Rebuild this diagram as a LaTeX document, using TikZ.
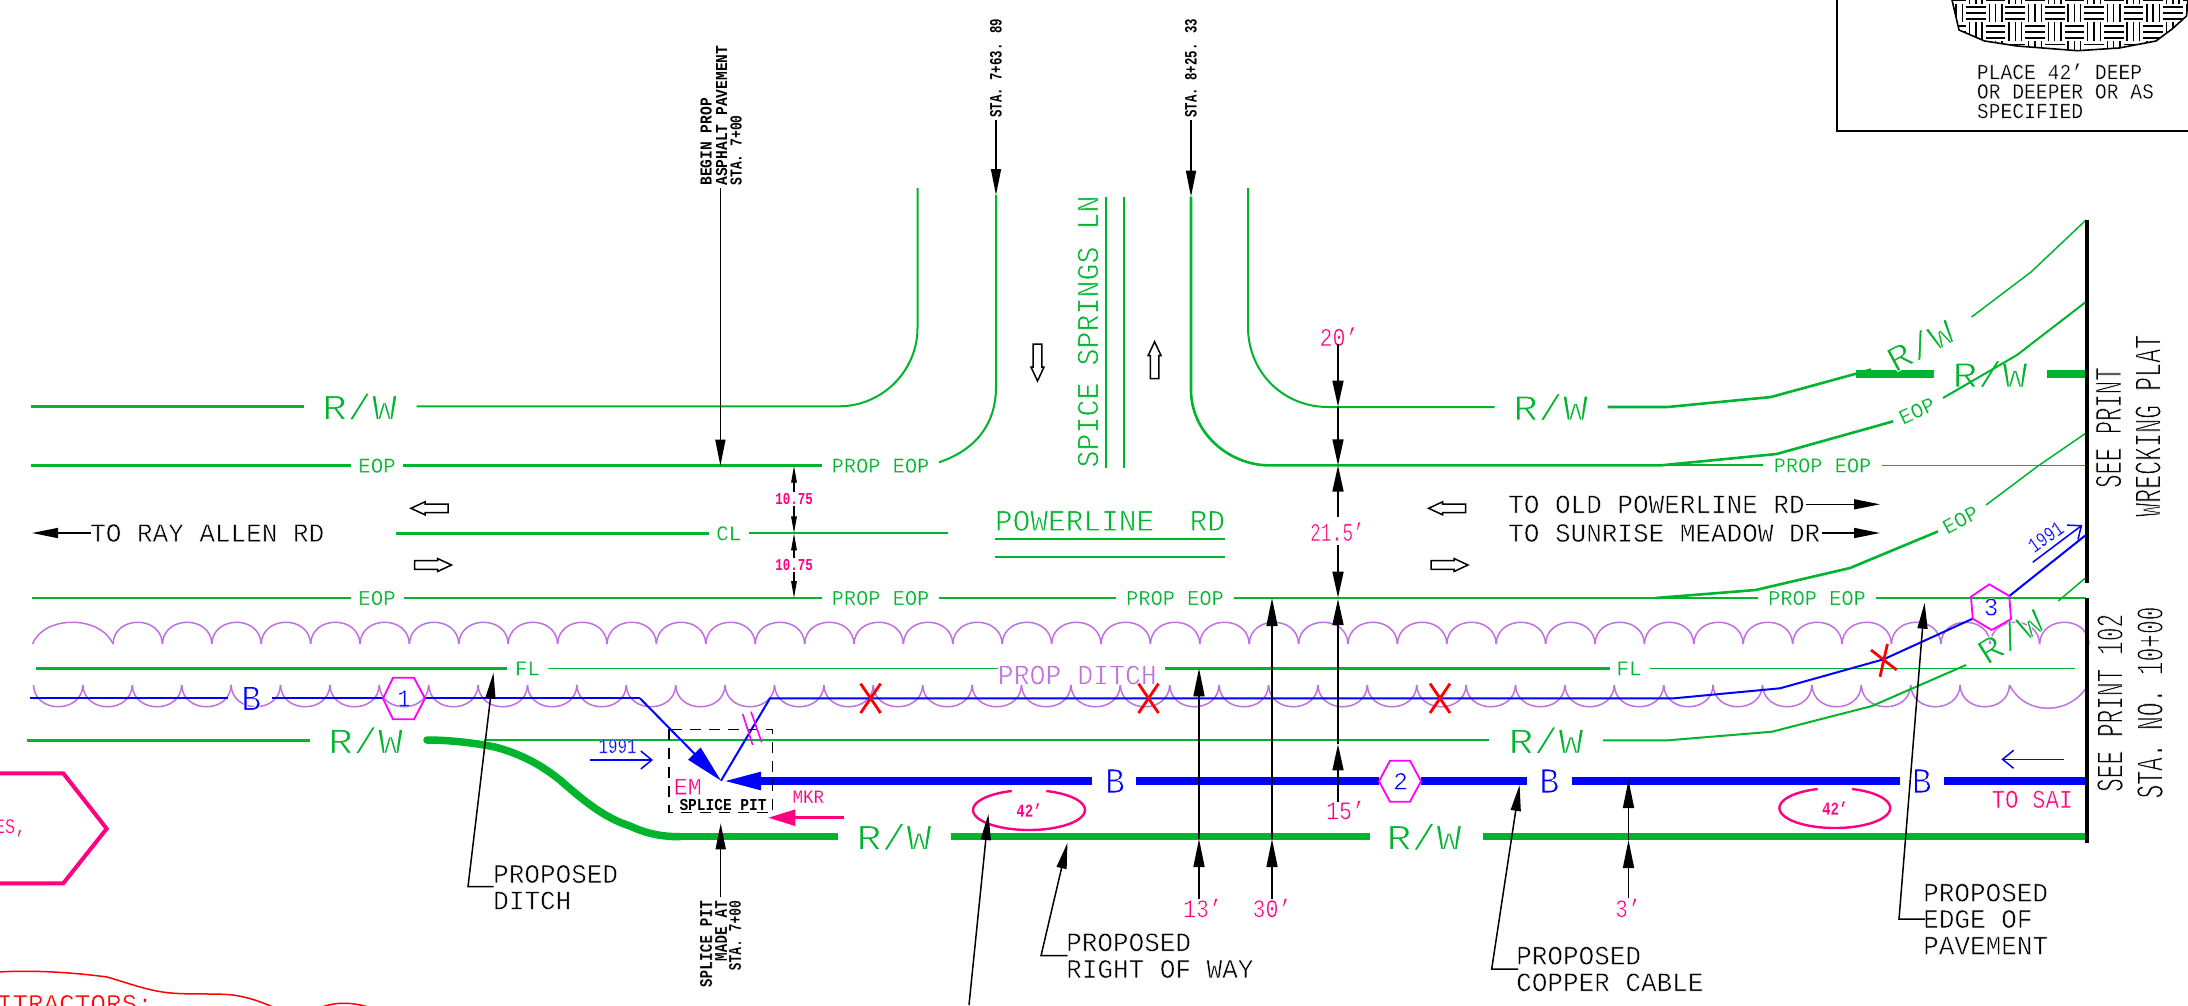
\documentclass[tikz,border=0pt]{standalone}
\usepackage{fontspec}
\setmainfont{Liberation Mono}
\usetikzlibrary{arrows.meta}
\definecolor{grn}{HTML}{00B52E}
\definecolor{pnk}{HTML}{FF0080}
\definecolor{mag}{HTML}{FF00FF}
\definecolor{lav}{HTML}{C070E0}
\tikzset{
  cad/.code 2 args={\pgfmathsetmacro\cadS{(#1)/0.66}\pgfmathsetmacro\cadX{(#2)/(0.6*\cadS)}\pgfmathsetmacro\cadW{0.55*(0.085*\cadS-1.4)}\ifdim\cadW pt>0.05pt \edef\cadsp{\noexpand\special{pdf:code 2 Tr 1 1 1 RG \cadW\space w}}\else\let\cadsp\relax\fi\edef\cadtmp{\noexpand\tikzset{font=\noexpand\fontsize{\cadS}{\cadS}\noexpand\selectfont,xscale=\cadX,execute at begin node=\noexpand\cadsp}}\cadtmp},
  tc/.style={execute at begin node={\color{#1}\cadsp}},
  gthin/.style={draw=grn,line width=1.5pt},
  gmid/.style={draw=grn,line width=2.6pt},
  gbar/.style={draw=grn,line width=7.5pt},
  bthin/.style={draw=blue,line width=2pt},
  bbar/.style={draw=blue,line width=7.7pt},
  scal/.style={draw=lav,line width=1.5pt},
  crossx/.style={draw=red,line width=2.8pt},
  pell/.style={draw=pnk,line width=2.4pt},
  hexa/.style={draw=mag,line width=1.8pt,fill=white},
  blk/.style={draw=black,line width=1.5pt,-{Triangle[length=26pt,width=10pt]}},
  blks/.style={draw=black,line width=1.4pt,-{Triangle[length=17pt,width=5.5pt]}},
  bbarb/.style={draw=blue,line width=1.5pt,-{Straight Barb[length=11pt,width=18pt]}},
  openar/.style={draw=black,line width=1.5pt}
}
\newcommand{\openarrow}[3]{\draw[openar,shift={(#1,#2)},rotate=#3] (0,0)--(14,-6.5)--(14,-4.3)--(37,-4.3)--(37,4.3)--(14,4.3)--(14,6.5)--cycle;}
\begin{document}
\begin{tikzpicture}[x=1pt,y=-1pt,every node/.style={inner sep=0pt}]
\useasboundingbox (0,0) rectangle (2188,1005);
\fill[white] (0,0) rectangle (2188,1005);

% scallops
\draw[scal] (32.5,644) .. controls (44,615) and (100,615) .. (113,644);
\foreach \k in {0,...,39} \draw[scal] ({113+49.4*\k},644) .. controls ({113+49.4*\k+1},615) and ({113+49.4*(\k+1)-1},615) .. ({113+49.4*(\k+1)},644);
\foreach \k in {0,...,39} \draw[scal] ({33.5+49.4*\k},685) .. controls ({33.5+49.4*\k+1},714) and ({33.5+49.4*(\k+1)-1},714) .. ({33.5+49.4*(\k+1)},685);
\draw[scal] (2009.5,685) .. controls (2025,716) and (2070,716) .. (2088,685);

% upper left R/W
\draw[gmid] (31,406.3) -- (304,406.3);
\node[cad={24}{25},tc=grn] (rw1) at (359.5,406.5) {R/W};
\draw[gthin,line width=2pt] (416.5,406.3) -- (839,406.3) .. controls (882,406.3) and (917.5,371) .. (917.5,328) -- (917.5,188);
% upper left EOP
\draw[gmid] (31,465.7) -- (351,465.7);
\node[cad={14}{12.5},tc=grn] (eop1) at (377,465.7) {EOP};
\draw[gmid] (403,465.7) -- (822,465.7);
\node[cad={14}{12.2},tc=grn] (peop1) at (880.5,465.7) {PROP EOP};
\draw[gthin,line width=2pt] (939,462.3) .. controls (975,450) and (996,425) .. (996,386.7) -- (996,195);
% spice springs
\draw[gthin,line width=2pt] (1106,196.7) -- (1106,467.7);
\draw[gthin,line width=2pt] (1124,196.7) -- (1124,467.7);
\node[rotate=90,cad={20.4}{17},tc=grn] (spice) at (1088,331.5) {SPICE SPRINGS LN};
% right return, R/W
\draw[gthin,line width=2pt] (1248,188) -- (1248,327) .. controls (1248,372) and (1283,407) .. (1328,407) -- (1494.6,407);
\node[cad={24}{25},tc=grn] (rw2) at (1550.5,407) {R/W};
\draw[gmid] (1607.6,407) -- (1667.5,407) -- (1771,397) -- (1871,369.6);
\draw[gbar] (1855.5,374) -- (1933.5,374);
\node[cad={24}{25},tc=grn] (rw3) at (1990,374) {R/W};
\draw[gbar] (2047,374) -- (2086,374);
\node[rotate=28,cad={24}{23.5},tc=grn] (rw4) at (1920,345) {R/W};
\draw[gthin] (1971.6,317) -- (2031,272) -- (2086,220);
% right EOP top
\draw[gmid] (1191,196.7) -- (1191,390) .. controls (1191,432) and (1228,465.4) .. (1270,465.4) -- (1660,465.4) -- (1776.6,454) -- (1893,421.4);
\node[rotate=25,cad={14}{12.5},tc=grn] (eop2) at (1917,410.7) {EOP};
\draw[gthin,line width=2pt] (1943,398) -- (2017,355) -- (2086,301.8);
\draw[gthin,line width=2pt] (1660,465.4) -- (1763,465.4);
\node[cad={14}{12.2},tc=grn] (peop2) at (1822.5,465.4) {PROP EOP};
\draw[gthin] (1882,465.4) -- (2086,465.4);
% centre line
\draw[gmid] (396,533.3) -- (709,533.3);
\node[cad={14}{12.5},tc=grn] (cl) at (728.7,533.3) {CL};
\draw[gthin,line width=2pt] (748.7,533.3) -- (948,533.3);
\node[cad={20}{17.7},tc=grn] (pl) at (1110,520.8) {POWERLINE\ \ RD};
\draw[gmid] (995,539) -- (1224.6,539);
\draw[gthin] (995,557) -- (1224.6,557);
% lower EOP
\draw[gmid] (32,598) -- (351,598);
\node[cad={14}{12.5},tc=grn] (eop3) at (377,598) {EOP};
\draw[gmid] (404,598) -- (822,598);
\node[cad={14}{12.2},tc=grn] (peop3) at (880.5,598) {PROP EOP};
\draw[gmid] (939,598) -- (1116.4,598);
\node[cad={14}{12.2},tc=grn] (peop4) at (1175,598) {PROP EOP};
\draw[gmid] (1234,598) -- (1758,598);
\node[cad={14}{12.2},tc=grn] (peop5) at (1817,598) {PROP EOP};
\draw[gmid] (1875.7,598) -- (2086,598);
\draw[gmid] (1655.5,598) -- (1755.6,590) -- (1850,568) -- (1938,531.4);
\node[rotate=28,cad={14}{12.5},tc=grn] (eop4) at (1960.5,519.6) {EOP};
\draw[gthin] (1986,505) -- (2038,466) -- (2086,433);
\draw[gthin] (2058.3,601) -- (2085,578.3);
% FL
\draw[gmid,line width=3.5pt] (36,668.3) -- (507,668.3);
\node[cad={14}{12.5},tc=grn] (fl1) at (527.5,668.3) {FL};
\draw[gthin] (548,668.3) -- (998,668.3);
\node[cad={19}{15.9},tc=lav] (ditch) at (1077.3,675) {PROP DITCH};
\draw[gmid,line width=3.5pt] (1165,668.3) -- (1610,668.3);
\node[cad={14}{12.5},tc=grn] (fl2) at (1629,668.3) {FL};
\draw[gthin] (1650,668.3) -- (2075,668.3);
% lower R/W
\draw[gmid] (26.5,740.3) -- (310,740.3);
\node[cad={24}{25},tc=grn] (rw5) at (365.5,740.3) {R/W};
\draw[gthin,line width=2pt] (484,740.3) -- (1489,740.3);
\node[cad={24}{25},tc=grn] (rw6) at (1546,740.3) {R/W};
\draw[gthin,line width=2pt] (1603,740.3) -- (1668,740.3) -- (1772,731.7) -- (1872,706) -- (1966,665);
\node[rotate=32,cad={24}{23.5},tc=grn] (rw7) at (2010,636) {R/W};
% thick R/W bottom
\draw[gbar,line cap=round] (427,740) .. controls (450,740) and (475,743) .. (495,747) .. controls (525,755) and (545,768) .. (560,780) .. controls (585,802) and (605,818) .. (630,826) .. controls (645,833) and (660,836.7) .. (680,836.7);
\draw[gbar] (675,836.7) -- (838,836.7);
\node[cad={24}{25},tc=grn] (rw8) at (894,836.7) {R/W};
\draw[gbar] (950.7,836.7) -- (1370,836.7);
\node[cad={24}{25},tc=grn] (rw9) at (1424,836.7) {R/W};
\draw[gbar] (1483,836.7) -- (2086,836.7);

% blue thin line
\draw[bthin] (30,698.3) -- (228,698.3);
\node[cad={24}{20},tc=blue] (b1) at (251.4,698.3) {B};
\draw[bthin] (272.3,698.3) -- (383,698.3);
\draw[bthin] (425,698.3) -- (640,698.3);
\draw[bthin,-{Triangle[length=38pt,width=17pt]}] (640,698.3) -- (721,780.7);
\draw[bthin] (721,780.7) -- (770,698.3) -- (1674,698.3) -- (1780,688.3) -- (1883.6,659.3) -- (1973.5,618.3);
\draw[bthin] (2009.3,596) -- (2085,535.7);
% blue thick
\draw[bbar,-{Triangle[length=40pt,width=16pt]}] (1092,781) -- (721,781);
\node[cad={24}{20},tc=blue] (b2) at (1115,781) {B};
\draw[bbar] (1136.4,781) -- (1379,781);
\draw[bbar] (1421,781) -- (1526.6,781);
\node[cad={24}{20},tc=blue] (b3) at (1549.4,781) {B};
\draw[bbar] (1571.7,781) -- (1900,781);
\node[cad={24}{20},tc=blue] (b4) at (1921.8,781) {B};
\draw[bbar] (1944,781) -- (2086,781);
% hexagons
\draw[hexa,fill=none] (383,698.5)--(393,677.7)--(414,677.7)--(425,698.5)--(414,719.3)--(393,719.3)--cycle;
\node[cad={16.5}{13},tc=blue] (h1) at (404,698.5) {1};
\draw[hexa] (1379,781.2)--(1390,760.7)--(1410,760.7)--(1421,781.2)--(1410,801.7)--(1390,801.7)--cycle;
\node[cad={16.5}{15},tc=blue] (h2) at (1400.5,781.2) {2};
\draw[hexa,fill=none] (1989.3,584.3)--(2009.3,596)--(2011,619)--(1991.7,630)--(1972.7,618.7)--(1971,596.7)--cycle;
\node[cad={17}{15},tc=blue] (h3) at (1991,607) {3};
% 1991 labels
\node[cad={14}{9.5},tc=blue] (y1) at (617.5,746) {1991};
\draw[bbarb] (590,760) -- (653,760);
\node[rotate=35,cad={14}{9.5},tc=blue] (y2) at (2045.7,536.7) {1991};
\draw[bbarb] (2032.7,562.3) -- (2082.3,525);
\draw[bbarb] (2063.8,759.3) -- (2001.4,759.3);
\node[cad={17}{13.5},tc=pnk] (sai) at (2032,799.3) {TO SAI};
% red x
\foreach \cx in {870.6,1148.5,1440} {
  \draw[crossx] (\cx-10,683.6) -- (\cx+10,713);
  \draw[crossx] (\cx+10,683.6) -- (\cx-10,713);
}
\draw[crossx] (1871,650) -- (1896.7,670);
\draw[crossx] (1887.4,644) -- (1880,676.7);

% splice pit
\draw[draw=black,line width=1.5pt,dash pattern=on 11pt off 8pt] (669,729.3) rectangle (772.7,812.7);
\node[cad={15.7}{14},tc=pnk] (em) at (687.7,786.7) {EM};
\node[cad={11}{8.7}] (spl) at (723,805) {\bfseries SPLICE PIT};
\node[cad={12.5}{10.5},tc=pnk] (mkr) at (808.3,796.7) {MKR};
\draw[draw=pnk,line width=2.6pt,-{Triangle[length=27pt,width=16pt]}] (844,817.7) -- (768.3,817.7);
\draw[draw=mag,line width=1.6pt] (742.7,714) -- (752.7,745);
\draw[draw=mag,line width=1.6pt] (751,711.7) -- (761.7,742.3);

% pink ellipses
\draw[pell] plot[smooth,samples=50,domain=108:432] ({1029+56*cos(\x)},{810-20*sin(\x)});
\node[cad={12}{8.5},tc=pnk] (d1) at (1029,810) {\bfseries 42'};
\draw[pell] plot[smooth,samples=50,domain=108:432] ({1834.8+55.4*cos(\x)},{808-20*sin(\x)});
\node[cad={12}{8.5},tc=pnk] (d2) at (1834.8,808) {\bfseries 42'};

% dimension arrows
\draw[blks] (794,492) -- (794,465.7);
\draw[blks] (794,506) -- (794,533.3);
\draw[blks] (794,558) -- (794,533.3);
\draw[blks] (794,572) -- (794,598);
\node[cad={11}{7.5},tc=pnk] (d1075a) at (794,499) {\bfseries 10.75};
\node[cad={11}{7.5},tc=pnk] (d1075b) at (794,565.3) {\bfseries 10.75};
\node[cad={17}{13},tc=pnk] (d20) at (1339,336.7) {20'};
\draw[blk,-{Triangle[length=26pt,width=11pt]}] (1338,344.3) -- (1338,406.7);
\draw[blk,-{Triangle[length=26pt,width=11pt]}] (1338,406.7) -- (1338,465.3);
\draw[blk,-{Triangle[length=26pt,width=11pt]}] (1338,516.7) -- (1338,465.5);
\node[cad={17}{10.8},tc=pnk] (d215) at (1337,531.7) {21.5'};
\draw[blk,-{Triangle[length=26pt,width=11pt]}] (1338,545) -- (1338,597.7);
\draw[blk,-{Triangle[length=26pt,width=11pt]}] (1338,801.7) -- (1338,744.3);
\draw[blk,-{Triangle[length=26pt,width=11pt]}] (1338,744.3) -- (1338,599);
\node[cad={17}{13},tc=pnk] (d15) at (1345.5,810) {15'};
\draw[blk,-{Triangle[length=28pt,width=11pt]}] (1199,899) -- (1199,839);
\draw[blk,-{Triangle[length=28pt,width=11pt]}] (1199,839) -- (1199,668.3);
\node[cad={17}{13},tc=pnk] (d13) at (1202.5,908) {13'};
\draw[blk,-{Triangle[length=28pt,width=11pt]}] (1272,899) -- (1272,839);
\draw[blk,-{Triangle[length=28pt,width=11pt]}] (1272,839) -- (1272,598);
\node[cad={17}{13},tc=pnk] (d30) at (1272,908) {30'};
\draw[blk,-{Triangle[length=28pt,width=11pt]}] (1628.5,898) -- (1628.5,840);
\draw[blk,-{Triangle[length=28pt,width=11pt]}] (1628.5,840) -- (1628.5,780);
\node[cad={17}{13},tc=pnk] (d3) at (1628,908) {3'};

% leaders
\draw[blk] (493.5,886.7) -- (468,886.7) -- (493.5,672.7);
\node[cad={17.7}{15.6},anchor=west] (pd1) at (493,874) {PROPOSED};
\node[cad={17.7}{15.6},anchor=west] (pd2) at (493,900.5) {DITCH};
\draw[blk] (969,1005) -- (988.4,814);
\draw[blk] (1067.5,955.7) -- (1041,955.7) -- (1067.5,842.7);
\node[cad={17.7}{15.6},anchor=west] (pr1) at (1066,942.3) {PROPOSED};
\node[cad={17.7}{15.6},anchor=west] (pr2) at (1066,969) {RIGHT OF WAY};
\draw[blk] (1518,969) -- (1491.7,969) -- (1519.6,785);
\node[cad={17.7}{15.6},anchor=west] (pc1) at (1516,955.7) {PROPOSED};
\node[cad={17.7}{15.6},anchor=west] (pc2) at (1516,982.3) {COPPER CABLE};
\draw[blk] (1925.5,919) -- (1899,919) -- (1924.6,602.7);
\node[cad={17.7}{15.6},anchor=west] (pe1) at (1923,892.7) {PROPOSED};
\node[cad={17.7}{15.6},anchor=west] (pe2) at (1923,919) {EDGE OF};
\node[cad={17.7}{15.6},anchor=west] (pe3) at (1923,945.7) {PAVEMENT};

% road direction
\draw[blk] (91,533) -- (32,533);
\node[cad={17.5}{15.6},anchor=west] (ray) at (90,533) {TO RAY ALLEN RD};
\node[cad={17.5}{15.6},anchor=west] (old) at (1508,504.3) {TO OLD POWERLINE RD};
\draw[blk] (1806,504.3) -- (1880,504.3);
\node[cad={17.5}{15.6},anchor=west] (sun) at (1508,533) {TO SUNRISE MEADOW DR};
\draw[blk] (1822,533) -- (1880,533);
\openarrow{411}{508.3}{0}
\openarrow{451.5}{565}{180}
\openarrow{1037.5}{381}{90}
\openarrow{1154.6}{341.7}{-90}
\openarrow{1428.6}{508.3}{0}
\openarrow{1468}{565}{180}

% station labels
\draw[blk] (720.4,188.3) -- (720.4,465.7);
\node[rotate=90,cad={11}{8.75},anchor=west] (s1) at (706,185.7) {\bfseries BEGIN PROP};
\node[rotate=90,cad={11}{8.75},anchor=west] (s2) at (721.5,185.7) {\bfseries ASPHALT PAVEMENT};
\node[rotate=90,cad={11}{7.8},anchor=west] (s3) at (736,185.7) {\bfseries STA. 7+00};
\draw[blk] (996,120) -- (996,195);
\node[rotate=90,cad={11.4}{7.4},anchor=west] (s4) at (996,117.7) {\bfseries STA. 7+63. 89};
\draw[blk] (1191,120) -- (1191,196.7);
\node[rotate=90,cad={11.4}{7.4},anchor=west] (s5) at (1191,117.7) {\bfseries STA. 8+25. 33};
\draw[blk] (720.7,896.7) -- (720.7,823.3);
\node[rotate=90,cad={12}{8.7},anchor=east] (s6) at (706,900) {\bfseries SPLICE PIT};
\node[rotate=90,cad={12}{8.7},anchor=east] (s7) at (721,900) {\bfseries MADE AT};
\node[rotate=90,cad={12}{7.8},anchor=east] (s8) at (735,900) {\bfseries STA. 7+00};

% match line
\draw[draw=black,line width=4pt] (2086.5,220) -- (2086.5,583);
\draw[draw=black,line width=4pt] (2086.5,598) -- (2086.5,843);
\node[rotate=90,cad={25.5}{13.4},anchor=west] (m1) at (2108.5,488) {SEE PRINT};
\node[rotate=90,cad={25.5}{14},anchor=west] (m2) at (2148,517) {WRECKING PLAT};
\node[rotate=90,cad={25.5}{13.7},anchor=west] (m3) at (2110,792) {SEE PRINT 102};
\node[rotate=90,cad={25.5}{13.7},anchor=west] (m4) at (2150,798.5) {STA. NO. 10+00};

% inset
\draw[draw=black,line width=2pt] (1837,-5) -- (1837,131) -- (2195,131);
\begin{scope}
  \clip (1952,0)--(1959,30)--(1984.6,41)--(2017,46)--(2077.5,50.7)--(2119,48)--(2156,41)--(2172.6,28.6)--(2186.5,16)--(2188,0)--cycle;
  \foreach \i in {-1,...,11} \foreach \j in {-1,...,2} {
    \pgfmathsetmacro\xa{1966+19.7*\i}
    \pgfmathsetmacro\ya{3.5+18.9*\j}
    \pgfmathtruncatemacro\parit{mod(\i+\j+10,2)}
    \ifnum\parit=0
      \foreach \f in {.18,.5,.82} \draw[line width=1.4pt] (\xa,\ya+18.9*\f) -- (\xa+19.7,\ya+18.9*\f);
    \else
      \foreach \f in {.18,.5,.82} \draw[line width=1.4pt] (\xa+19.7*\f,\ya) -- (\xa+19.7*\f,\ya+18.9);
    \fi
  }
\end{scope}
\draw[line width=1.6pt] (1952,0)--(1959,30)--(1984.6,41)--(2017,46)--(2077.5,50.7)--(2119,48)--(2156,41)--(2172.6,28.6)--(2186.5,16)--(2188,0);
\node[cad={14.3}{11.8},anchor=west] (i1) at (1976.7,71.4) {PLACE 42' DEEP};
\node[cad={14.3}{11.8},anchor=west] (i2) at (1976.7,91.4) {OR DEEPER OR AS};
\node[cad={14.3}{11.8},anchor=west] (i3) at (1976.7,111) {SPECIFIED};

% bottom-left
\draw[draw=pnk,line width=4pt] (-5,773.3) -- (63.3,773.3) -- (106.7,828.7) -- (63.3,883.3) -- (-5,883.3);
\node[cad={14}{10.5},tc=pnk,anchor=east] (es) at (26,828) {ES,};
\draw[draw=red,line width=1.5pt] (-2,972) .. controls (30,970) and (70,972) .. (107,977) .. controls (125,982) and (145,990) .. (167.6,992.7) .. controls (190,995) and (215,993) .. (232.8,995) .. controls (248,997) and (262,1002) .. (275,1008);
\draw[draw=red,line width=1.5pt] (322,1007) .. controls (335,1002) and (352,1002) .. (368,1007);
\node[cad={17}{15.6},tc=red,anchor=base east] (ctr) at (153,1012) {ITRACTORS:};
\end{tikzpicture}
\end{document}
